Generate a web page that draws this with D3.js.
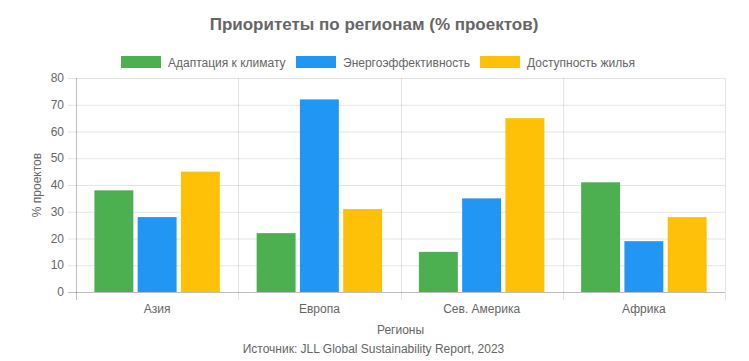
<!DOCTYPE html>
<html lang="ru">
<head>
<meta charset="utf-8">
<script src="https://d3js.org/d3.v7.min.js"></script>
<style>
body { margin: 0; background: #fff; }
text { font-family: "Liberation Sans", Arial, sans-serif; fill: #666; }
.grid line { stroke: rgba(0,0,0,0.1); }
</style>
</head>
<body>
<svg width="749" height="361"></svg>
<script>
var regions = ["Азия", "Европа", "Сев. Америка", "Африка"];
var seriesNames = ["Адаптация к климату", "Энергоэффективность", "Доступность жилья"];
var seriesColors = ["#4CAF50", "#2196F3", "#FFC107"];
var adaptation = [38, 22, 15, 41];
var efficiency = [28, 72, 35, 19];
var housing = [45, 31, 65, 28];
var yTicks = [0, 10, 20, 30, 40, 50, 60, 70, 80];

var series = [adaptation, efficiency, housing];

var svg = d3.select("svg");
var plotL = 76, plotR = 725, plotT = 78, plotB = 292;

var x = d3.scaleBand().domain(regions).range([plotL, plotR]);
var x1 = d3.scaleBand().domain(d3.range(series.length))
    .range([0, x.bandwidth() * 0.8]).paddingInner(0.1).paddingOuter(0.05);
var y = d3.scaleLinear().domain([0, 80]).range([plotB, plotT]);

// title
svg.append("text").attr("x", 374).attr("y", 30)
  .attr("text-anchor", "middle").attr("font-size", 17).attr("font-weight", "bold")
  .text("Приоритеты по регионам (% проектов)");

// legend
var legendX = [121, 296, 480];
seriesNames.forEach(function(n, i) {
  svg.append("rect").attr("x", legendX[i]).attr("y", 56).attr("width", 40).attr("height", 12)
    .attr("fill", seriesColors[i]);
  svg.append("text").attr("x", legendX[i] + 47).attr("y", 66.5)
    .attr("font-size", 12).text(n);
});

// grid
var grid = svg.append("g").attr("class", "grid");
grid.selectAll(".h").data(yTicks).enter().append("line")
  .attr("x1", plotL - 8).attr("x2", plotR)
  .attr("y1", function(d) { return y(d) + 0.5; }).attr("y2", function(d) { return y(d) + 0.5; })
  .style("stroke", function(d) { return d === 0 ? "rgba(0,0,0,0.25)" : null; });
var vx = regions.map(function(r) { return x(r); }).concat([plotR]);
grid.selectAll(".v").data(vx).enter().append("line")
  .attr("x1", function(d) { return Math.round(d) + 0.5; }).attr("x2", function(d) { return Math.round(d) + 0.5; })
  .attr("y1", plotT).attr("y2", plotB + 8)
  .style("stroke", function(d, i) { return i === 0 ? "rgba(0,0,0,0.25)" : null; });

// y tick labels
svg.selectAll(".yl").data(yTicks).enter().append("text")
  .attr("x", 64).attr("y", function(d) { return y(d) + 4; })
  .attr("text-anchor", "end").attr("font-size", 12).text(function(d) { return d; });

// x tick labels
svg.selectAll(".xl").data(regions).enter().append("text")
  .attr("x", function(d) { return x(d) + x.bandwidth() / 2; }).attr("y", 313)
  .attr("text-anchor", "middle").attr("font-size", 12).text(function(d) { return d; });

// bars
series.forEach(function(vals, si) {
  svg.append("g").selectAll("rect").data(vals).enter().append("rect")
    .attr("x", function(d, i) { return x(regions[i]) + x.bandwidth() * 0.1 + x1(si); })
    .attr("width", x1.bandwidth())
    .attr("y", function(d) { return y(d); })
    .attr("height", function(d) { return y(0) - y(d); })
    .attr("fill", seriesColors[si]);
});

// axis titles
svg.append("text").attr("transform", "translate(41," + ((plotT + plotB) / 2) + ") rotate(-90)")
  .attr("text-anchor", "middle").attr("font-size", 12).text("% проектов");
svg.append("text").attr("x", (plotL + plotR) / 2).attr("y", 334)
  .attr("text-anchor", "middle").attr("font-size", 12).text("Регионы");
svg.append("text").attr("x", (plotL + plotR) / 2 - 27).attr("y", 353)
  .attr("text-anchor", "middle").attr("font-size", 12).text("Источник: JLL Global Sustainability Report, 2023");
</script>
</body>
</html>
